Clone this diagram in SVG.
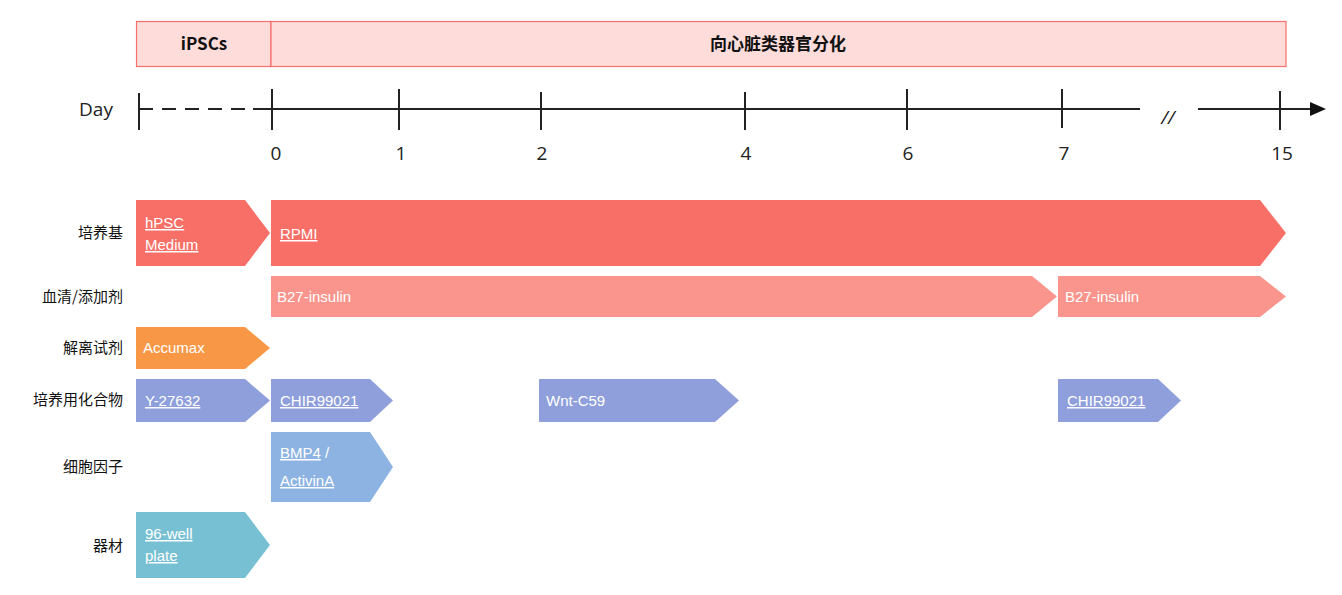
<svg xmlns="http://www.w3.org/2000/svg" width="1342" height="595" viewBox="0 0 1342 595">
<style>
.hd{fill:#FDDCDA;stroke:#F5706A;stroke-width:1.2}
.ht{font-family:"Noto Sans CJK SC","Noto Sans",sans-serif;font-weight:bold;font-size:17px;fill:#111;text-anchor:middle}
.ax{stroke:#222;stroke-width:2;fill:none}
.num{font-family:"Open Sans","Noto Sans",sans-serif;font-size:19px;fill:#222;text-anchor:middle}
.lb{font-family:"Noto Sans CJK SC",sans-serif;font-size:15px;fill:#111;text-anchor:end}
.bt{font-family:"Liberation Sans",Arial,sans-serif;font-size:15px;fill:#fff}
.u{text-decoration:underline}
.r{fill:#F76F66}.p{fill:#F9958D}.o{fill:#F89846}.v{fill:#8F9FDB}.b{fill:#8DB3E2}.t{fill:#77C0D3}
</style>
<g id="header">
<rect class="hd" x="136.5" y="21.5" width="134.5" height="45"/>
<rect class="hd" x="271" y="21.5" width="1015" height="45"/>
<text class="ht" x="204" y="50">iPSCs</text>
<text class="ht" x="778" y="50">向心脏类器官分化</text>
</g>
<g id="timeline">
<text x="96" y="116" class="num">Day</text>
<line class="ax" x1="139" y1="109" x2="253" y2="109" stroke-dasharray="14,9"/>
<line class="ax" x1="253" y1="109" x2="1140" y2="109"/>
<line class="ax" x1="1198" y1="109" x2="1312" y2="109"/>
<path d="M1310 102 L1326 109 L1310 116 Z" fill="#111"/>
<text x="1168" y="124" class="num" font-style="italic">//</text>
<g class="ax">
<line x1="139" y1="93" x2="139" y2="130"/>
<line x1="272" y1="89" x2="272" y2="130"/>
<line x1="399" y1="89" x2="399" y2="130"/>
<line x1="541" y1="92" x2="541" y2="130"/>
<line x1="745" y1="92" x2="745" y2="130"/>
<line x1="907" y1="89" x2="907" y2="130"/>
<line x1="1062" y1="89" x2="1062" y2="128"/>
<line x1="1280" y1="91" x2="1280" y2="130"/>
</g>
<text class="num" x="276" y="160">0</text>
<text class="num" x="401" y="160">1</text>
<text class="num" x="542" y="160">2</text>
<text class="num" x="746" y="160">4</text>
<text class="num" x="908" y="160">6</text>
<text class="num" x="1064" y="160">7</text>
<text class="num" x="1282" y="160">15</text>
</g>
<g id="labels">
<text class="lb" x="123" y="238">培养基</text>
<text class="lb" x="123" y="302">血清/添加剂</text>
<text class="lb" x="123" y="353">解离试剂</text>
<text class="lb" x="123" y="405">培养用化合物</text>
<text class="lb" x="123" y="472">细胞因子</text>
<text class="lb" x="123" y="551">器材</text>
</g>
<g id="medium">
<path class="r" d="M136 200 H245 L270 233 L245 266 H136 Z"/>
<text class="bt u" x="145" y="228">hPSC</text><text class="bt u" x="145" y="250">Medium</text>
<path class="r" d="M271 200 H1260 L1286 233 L1260 266 H271 Z"/>
<text class="bt u" x="280" y="239">RPMI</text>
</g>
<g id="serum">
<path class="p" d="M271 276 H1032 L1057 296.5 L1032 317 H271 Z"/>
<text class="bt" x="277" y="302">B27-insulin</text>
<path class="p" d="M1058 276 H1260 L1286 296.5 L1260 317 H1058 Z"/>
<text class="bt" x="1065" y="302">B27-insulin</text>
</g>
<g id="dissociation">
<path class="o" d="M136 327 H245 L270 348 L245 369 H136 Z"/>
<text class="bt" x="143" y="353">Accumax</text>
</g>
<g id="compounds">
<path class="v" d="M136 379 H245 L270 400.5 L245 422 H136 Z"/>
<text class="bt u" x="145" y="406">Y-27632</text>
<path class="v" d="M271 379 H370 L393 400.5 L370 422 H271 Z"/>
<text class="bt u" x="280" y="406">CHIR99021</text>
<path class="v" d="M539 379 H715 L739 400.5 L715 422 H539 Z"/>
<text class="bt" x="546" y="406">Wnt-C59</text>
<path class="v" d="M1058 379 H1158 L1181 400.5 L1158 422 H1058 Z"/>
<text class="bt u" x="1067" y="406">CHIR99021</text>
</g>
<g id="cytokines">
<path class="b" d="M271 432 H370 L393 467 L370 502 H271 Z"/>
<text class="bt" x="280" y="458"><tspan class="u">BMP4</tspan> /</text>
<text class="bt u" x="280" y="486">ActivinA</text>
</g>
<g id="equipment">
<path class="t" d="M136 512 H245 L270 545 L245 578 H136 Z"/>
<text class="bt u" x="145" y="539">96-well</text><text class="bt u" x="145" y="561">plate</text>
</g>
</svg>
